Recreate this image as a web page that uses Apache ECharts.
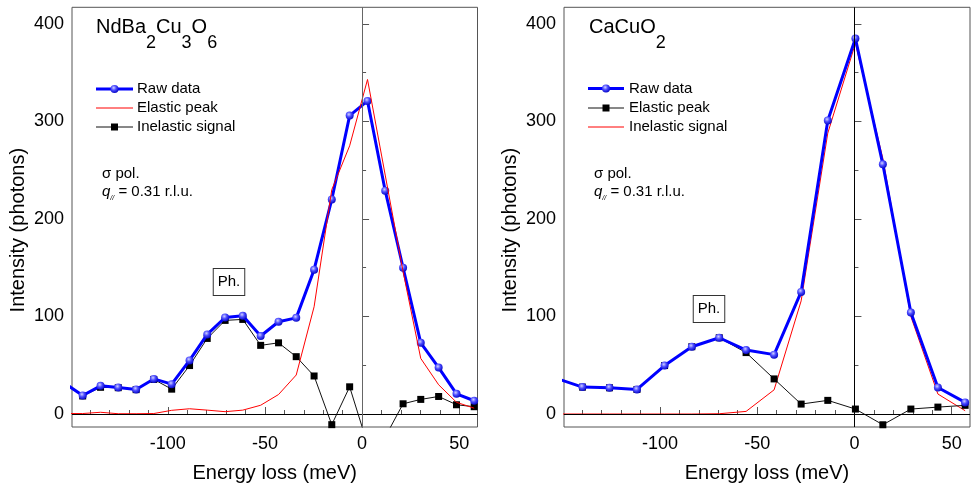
<!DOCTYPE html>
<html><head><meta charset="utf-8">
<script src="https://cdn.jsdelivr.net/npm/echarts@6/dist/echarts.min.js"></script>
<style>html,body{margin:0;padding:0;background:#fff}#c{width:971px;height:488px}</style>
</head><body><div id="c"></div>
<script>
// ---------- data ----------
const leftEnergy    = [-153.0, -143.8, -134.6, -125.5, -116.3, -107.2, -98.0, -88.8, -79.7, -70.5, -61.4, -52.2, -43.0, -33.9, -24.7, -15.6, -6.4, 2.8, 11.9, 21.1, 30.2, 39.4, 48.6, 57.7];
const leftRaw       = [31.5, 19, 28.9, 27.2, 25.2, 36, 30.6, 55, 81.6, 99, 100.7, 80, 94.6, 98.6, 148, 220, 306, 321, 229, 150, 73, 47.6, 20.7, 13.6];
const leftElastic   = [0.5, 0.5, 1.8, 0.3, 0.3, 0.5, 3.8, 5.4, 4, 2.4, 4, 9, 20, 40, 110, 230, 275, 343, 245, 146, 57, 30, 12, 6];
const leftInelastic = [31, 18.5, 27.4, 27, 25, 35.5, 25.5, 49.7, 77.5, 96, 97, 70.4, 73, 58.8, 39, -10.9, 27.9, -31, -23.5, 10.5, 15, 18, 9.5, 7.5];

const rightEnergy   = [-153.9, -139.8, -125.9, -111.8, -97.6, -83.6, -69.5, -55.7, -41.3, -27.4, -13.7, 0.5, 14.6, 29.0, 42.9, 56.9];
const rightRaw      = [37, 27.6, 26.9, 25.2, 49.7, 69, 78.2, 65.6, 60.9, 125.2, 301, 385, 256, 104, 27.2, 11.9];
const rightSquares  = [37, 27.6, 26.9, 25.2, 49.7, 69, 78.2, 63, 36, 10.2, 14, 5.1, -11, 5.1, 7.1, 8.9];
const rightRedLine  = [0, 0, 0, 0, 0, 0, 0.3, 2.7, 24.8, 116, 288, 380, 262, 100, 20.5, 3.4];

const xMajorTicks = [-100, -50, 0, 50];
const xMinorTicks = [-140, -130, -120, -110, -90, -80, -70, -60, -40, -30, -20, -10, 10, 20, 30, 40];
const yMajorTicks = [0, 100, 200, 300, 400];
const yMinorTicks = [50, 150, 250, 350];

const leftTitle  = ['NdBa', '2', 'Cu', '3', 'O', '6'];
const rightTitle = ['CaCuO', '2'];
const leftLegend  = ['Raw data', 'Elastic peak', 'Inelastic signal'];
const rightLegend = ['Raw data', 'Elastic peak', 'Inelastic signal'];
const xTitle = 'Energy loss (meV)';
const yTitle = 'Intensity (photons)';
const polText = 'σ pol.';
const qText = ' = 0.31 r.l.u.';
const phText = 'Ph.';

// ---------- style ----------
const FONT = '"Liberation Sans", Arial, Helvetica, sans-serif';
const FRAME = '#555';
const BLUE = '#0000ff';
const RED = '#ff0000';
const X_MIN = -149.3, X_MAX = 59.4, Y_MIN = -13.3, Y_MAX = 417;
const sphere = {type: 'radial', x: 0.4, y: 0.35, r: 0.7,
  colorStops: [{offset: 0, color: '#d0d0ff'}, {offset: 0.45, color: '#4a4aff'}, {offset: 1, color: '#0000c0'}]};

function pairs(xs, ys) { return xs.map((x, i) => [x, ys[i]]); }

function xMajor(g) {
  return {type: 'value', gridIndex: g, min: X_MIN, max: X_MAX, position: 'bottom',
    axisLine: {show: false}, splitLine: {show: false},
    axisTick: {show: true, inside: true, length: 7, customValues: xMajorTicks, lineStyle: {color: FRAME, width: 1}},
    axisLabel: {show: true, customValues: xMajorTicks, margin: 8, fontSize: 18, color: '#000', fontFamily: FONT},
    name: xTitle, nameLocation: 'middle', nameGap: 36,
    nameTextStyle: {fontSize: 20, color: '#000', fontFamily: FONT}};
}
function xMinor(g) {
  return {type: 'value', gridIndex: g, min: X_MIN, max: X_MAX, position: 'bottom', offset: 0,
    axisLine: {show: false}, splitLine: {show: false}, axisLabel: {show: false},
    axisTick: {show: true, inside: true, length: 4, customValues: xMinorTicks, lineStyle: {color: FRAME, width: 1}}};
}
function yMajor(g) {
  return {type: 'value', gridIndex: g, min: Y_MIN, max: Y_MAX, position: 'left',
    axisLine: {show: false}, splitLine: {show: false},
    axisTick: {show: true, inside: true, length: 7, customValues: yMajorTicks, lineStyle: {color: FRAME, width: 1}},
    axisLabel: {show: true, customValues: yMajorTicks, margin: 8, fontSize: 18, color: '#000', fontFamily: FONT},
    name: yTitle, nameLocation: 'middle', nameGap: 44, nameRotate: 90,
    nameTextStyle: {fontSize: 20, color: '#000', fontFamily: FONT, padding: [0, 26, 0, 0]}};
}
function yMinor(g) {
  return {type: 'value', gridIndex: g, min: Y_MIN, max: Y_MAX, position: 'left', offset: 0,
    axisLine: {show: false}, splitLine: {show: false}, axisLabel: {show: false},
    axisTick: {show: true, inside: true, length: 4, customValues: yMinorTicks, lineStyle: {color: FRAME, width: 1}}};
}

function zeroLines(vColor) {
  return {silent: true, symbol: 'none', animation: false, label: {show: false},
    emphasis: {disabled: true},
    data: [{yAxis: 0, lineStyle: {color: '#000', width: 1, type: 'solid'}},
           {xAxis: 0, lineStyle: {color: vColor, width: 1, type: 'solid'}}]};
}

function blueSeries(name, xi, data, z, ml) {
  const s = {name, type: 'line', xAxisIndex: xi, yAxisIndex: xi, data, z,
    symbol: 'circle', symbolSize: 8, showAllSymbol: true,
    lineStyle: {color: BLUE, width: 3}, itemStyle: {color: sphere, borderWidth: 0},
    emphasis: {disabled: true}, animation: false};
  if (ml) s.markLine = ml;
  return s;
}
function blackSeries(name, xi, data, z) {
  return {name, type: 'line', xAxisIndex: xi, yAxisIndex: xi, data, z,
    symbol: 'rect', symbolSize: 7, showAllSymbol: true,
    lineStyle: {color: '#111', width: 1}, itemStyle: {color: '#000', borderWidth: 0},
    emphasis: {disabled: true}, animation: false};
}
function redSeries(name, xi, data, z) {
  return {name, type: 'line', xAxisIndex: xi, yAxisIndex: xi, data, z,
    symbol: 'none', lineStyle: {color: RED, width: 1},
    emphasis: {disabled: true}, animation: false};
}

// ---------- legend / annotation graphics ----------
function legendItems(x0, x1, textX, rows, kinds, labels) {
  const out = [];
  const mid = (x0 + x1) / 2;
  kinds.forEach((k, i) => {
    const y = rows[i];
    if (k === 'blue') {
      out.push({type: 'line', shape: {x1: x0, y1: y, x2: x1, y2: y}, style: {stroke: BLUE, lineWidth: 3}, z: 100});
      out.push({type: 'circle', shape: {cx: mid, cy: y, r: 4}, style: {fill: sphere}, z: 101});
    } else if (k === 'red') {
      out.push({type: 'line', shape: {x1: x0, y1: y, x2: x1, y2: y}, style: {stroke: RED, lineWidth: 1}, z: 100});
    } else {
      out.push({type: 'line', shape: {x1: x0, y1: y, x2: x1, y2: y}, style: {stroke: '#111', lineWidth: 1}, z: 100});
      out.push({type: 'rect', shape: {x: mid - 3.5, y: y - 3.5, width: 7, height: 7}, style: {fill: '#000'}, z: 101});
    }
    out.push({type: 'text', x: textX, y: y, z: 101,
      style: {text: labels[i], font: '15px ' + FONT, fill: '#000', align: 'left', verticalAlign: 'middle'}});
  });
  return out;
}

function titleText(x, parts) {
  let t = '';
  parts.forEach((p, i) => { t += (i % 2 === 0 ? '{m|' : '{s|') + p + '}'; });
  return {type: 'text', x: x, y: 17, z: 101,
    style: {text: t, align: 'left', verticalAlign: 'top', fill: '#000',
      rich: {m: {fontSize: 20, lineHeight: 20, fontFamily: FONT, verticalAlign: 'top', fill: '#000'},
             s: {fontSize: 18, lineHeight: 35, fontFamily: FONT, verticalAlign: 'bottom', fill: '#000'}}}};
}

function polBlock(x) {
  return [
    {type: 'text', x: x, y: 174, z: 101,
      style: {text: polText, font: '15px ' + FONT, fill: '#000', align: 'left', verticalAlign: 'middle'}},
    {type: 'text', x: x, y: 193, z: 101,
      style: {text: '{q|q}{sub|//}{n|' + qText + '}', align: 'left', verticalAlign: 'middle', fill: '#000',
        rich: {q: {fontSize: 15, fontStyle: 'italic', fontFamily: FONT, lineHeight: 16, verticalAlign: 'top'},
               sub: {fontSize: 7, fontStyle: 'italic', fontFamily: FONT, lineHeight: 18, verticalAlign: 'bottom'},
               n: {fontSize: 15, fontFamily: FONT, lineHeight: 16, verticalAlign: 'top'}}}}
  ];
}

function phBox(cx, cy) {
  return {type: 'text', x: cx, y: cy, z: 101,
    style: {text: phText, font: '15px ' + FONT, fill: '#000', align: 'center', verticalAlign: 'middle',
      padding: [6, 4, 5, 4], borderColor: '#333', borderWidth: 1, backgroundColor: '#fff'}};
}

const graphics = [].concat(
  [titleText(96, leftTitle), titleText(589, rightTitle)],
  legendItems(96, 133, 137, [89, 108, 127], ['blue', 'red', 'black'], leftLegend),
  legendItems(588, 624, 629, [88.5, 108, 127], ['blue', 'black', 'red'], rightLegend),
  polBlock(102), polBlock(594),
  [phBox(229, 282), phBox(709, 309)]
);

const chart = echarts.init(document.getElementById('c'), null, {renderer: 'canvas'});
chart.setOption({
  backgroundColor: '#fff',
  animation: false,
  grid: [
    {left: 72, right: 493.5, top: 7.3, bottom: 58.7, show: true, borderColor: FRAME, borderWidth: 1, backgroundColor: 'transparent'},
    {left: 564, right: 1, top: 7.3, bottom: 58.7, show: true, borderColor: FRAME, borderWidth: 1, backgroundColor: 'transparent'}
  ],
  xAxis: [xMajor(0), xMajor(1), xMinor(0), xMinor(1)],
  yAxis: [yMajor(0), yMajor(1), yMinor(0), yMinor(1)],
  series: [
    blackSeries('Inelastic signal', 0, pairs(leftEnergy, leftInelastic), 2),
    blueSeries('Raw data', 0, pairs(leftEnergy, leftRaw), 3, zeroLines('#666')),
    redSeries('Elastic peak', 0, pairs(leftEnergy, leftElastic), 4),
    redSeries('Elastic peak', 1, pairs(rightEnergy, rightRedLine), 2),
    blackSeries('Inelastic signal', 1, pairs(rightEnergy, rightSquares), 3),
    blueSeries('Raw data', 1, pairs(rightEnergy, rightRaw), 4, zeroLines('#000'))
  ],
  graphic: graphics
});
</script></body></html>
